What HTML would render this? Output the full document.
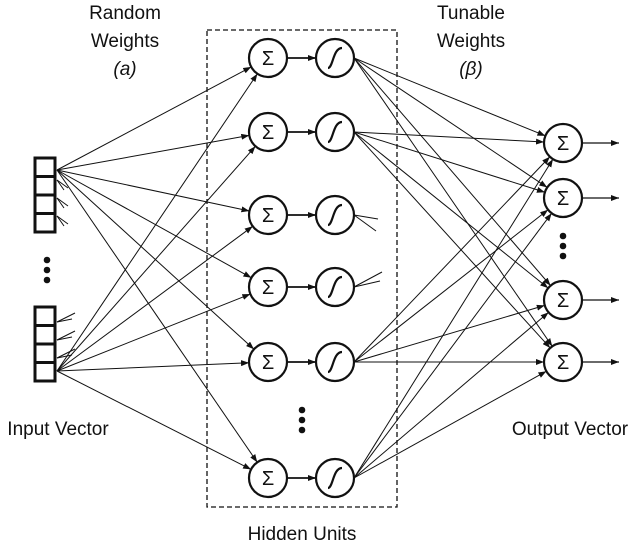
<!DOCTYPE html>
<html><head><meta charset="utf-8"><style>
body{margin:0;background:#fff;width:640px;height:544px;overflow:hidden}
text{font-family:"Liberation Sans",sans-serif;fill:#111}
</style></head><body>
<svg id="s" width="640" height="544" viewBox="0 0 640 544" xmlns="http://www.w3.org/2000/svg">
<defs><marker id="a" markerWidth="8" markerHeight="6" refX="8" refY="3" orient="auto" markerUnits="userSpaceOnUse"><path d="M0,0L8,3L0,6z" fill="#111"/></marker></defs>
<g font-size="19" text-anchor="middle">
<text x="125" y="19">Random</text><text x="125" y="47">Weights</text><text x="125" y="75" font-family="Liberation Serif" font-style="italic">(<tspan>a</tspan>)</text>
<text x="471" y="19">Tunable</text><text x="471" y="47">Weights</text><text x="471" y="75" font-family="Liberation Serif" font-style="italic">(β)</text>
<text x="58" y="435">Input Vector</text><text x="570" y="435">Output Vector</text>
<text x="302" y="540">Hidden Units</text>
</g>
<rect x="207" y="30" width="190" height="477" fill="none" stroke="#111" stroke-width="1.3" stroke-dasharray="5,3"/>
<g id="g" stroke="#111" fill="none"></g>
</svg>
<script>
var g=document.getElementById('g'),NS='http://www.w3.org/2000/svg';
function el(t,a){var e=document.createElementNS(NS,t);for(var k in a)e.setAttribute(k,a[k]);g.appendChild(e);return e;}
function arrow(x1,y1,cx,cy,r,w){var dx=cx-x1,dy=cy-y1,d=Math.hypot(dx,dy);el('line',{x1:x1,y1:y1,x2:cx-dx/d*r,y2:cy-dy/d*r,'stroke-width':w||1,'marker-end':'url(#a)'});}
var rows=[58,132,215,287,362,478],R=19,sx=268,gx=335;
rows.forEach(function(y){arrow(57,170,sx,y,R);arrow(57,371,sx,y,R);});
// input boxes
[[35,158],[35,307]].forEach(function(p){for(var i=0;i<4;i++)el('rect',{x:p[0],y:p[1]+i*18.5,width:20,height:18.5,'stroke-width':3});});
// stubs
[188,206,224].forEach(function(y){el('line',{x1:57,y1:y-8,x2:68,y2:y,'stroke-width':1});el('line',{x1:57,y1:y-8,x2:64,y2:y+2,'stroke-width':1});});
[322,340,358].forEach(function(y){el('line',{x1:57,y1:y,x2:75,y2:y-9,'stroke-width':1});el('line',{x1:57,y1:y,x2:72,y2:y-3,'stroke-width':1});});
var outs=[143,198,300,362],ox=563;
[58,132,362,478].forEach(function(y){outs.forEach(function(o){arrow(gx+R,y,ox,o,R);});});
el('line',{x1:gx+R,y1:215,x2:378,y2:219});el('line',{x1:gx+R,y1:215,x2:376,y2:231});
el('line',{x1:gx+R,y1:287,x2:382,y2:272});el('line',{x1:gx+R,y1:287,x2:380,y2:281});
rows.forEach(function(y){
 el('circle',{cx:sx,cy:y,r:R,fill:'#fff','stroke-width':2.2});
 el('circle',{cx:gx,cy:y,r:R,fill:'#fff','stroke-width':2.2});
 arrow(sx+R,y,gx,y,R,1.8);
 el('path',{d:'M'+(gx-7)+','+(y+10)+'C'+(gx-2)+','+(y+10)+' '+(gx-2)+','+(y-10)+' '+(gx+7)+','+(y-10),'stroke-width':2.2});
 var t=el('text',{x:sx,y:y+7,'font-size':20,'text-anchor':'middle',stroke:'none','font-family':'Liberation Serif'});t.textContent='Σ';
});
outs.forEach(function(y){
 el('circle',{cx:ox,cy:y,r:R,fill:'#fff','stroke-width':2.2});
 var t=el('text',{x:ox,y:y+7,'font-size':20,'text-anchor':'middle',stroke:'none','font-family':'Liberation Serif'});t.textContent='Σ';
 el('line',{x1:ox+R,y1:y,x2:619,y2:y,'stroke-width':1.3,'marker-end':'url(#a)'});
});
[[47,260],[47,270],[47,280],[302,410],[302,420],[302,430],[563,236],[563,246],[563,256]].forEach(function(p){el('circle',{cx:p[0],cy:p[1],r:3.3,fill:'#111',stroke:'none'});});
</script>
</body></html>
